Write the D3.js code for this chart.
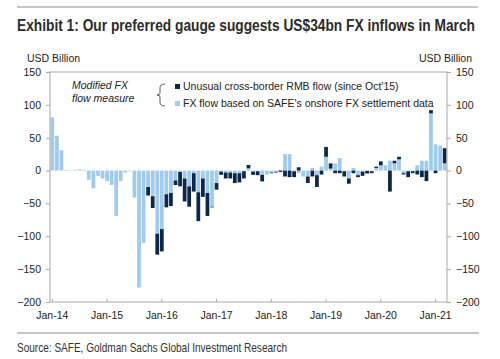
<!DOCTYPE html>
<html><head><meta charset="utf-8">
<script src="https://cdn.jsdelivr.net/npm/d3@7"></script>
<style>body{margin:0;background:#fff}svg text{font-family:"Liberation Sans",Arial,sans-serif}</style>
</head><body>
<svg id="c" width="500" height="359"></svg>
<script>
// Categories: monthly, Jan-14 .. Mar-21
const months = d3.timeMonths(new Date(2014,0,1), new Date(2021,3,1)).map(d3.timeFormat("%b-%y"));
const xTickLabels = ["Jan-14","Jan-15","Jan-16","Jan-17","Jan-18","Jan-19","Jan-20","Jan-21"];
const yTicks = [-200,-150,-100,-50,0,50,100,150];

// FX flow based on SAFE's onshore FX settlement data (USD bn)
const safeFlow = [
  81, 53, 31, 1, 0.5, 1, 2, 1, -14, -27, -8, -12,
  -16, -22, -69, -16, -3, -1, -41, -178, -110, -25, -39, -96,
  -89, -36, -34, -15, -2, -12, -24, -4, -33, -12, -34, -55,
  -19, -1.5, -3, -3, -4, -4, -1, 3.5, -1.5, -1, -6.5, -6.5,
  -3, -2, 1, 25, 25, -1, -4, -9, -9, 4, -7, 6,
  21, 3, 11, 19, -1, -12, 4, -7, -1.5, -0.5, -1, 4,
  8, 8, 15, 11, 17, -4, -1, -1, 8, 15, 15, 87,
  40, 38, 11
];
// Unusual cross-border RMB flow (since Oct'15) (USD bn)
const unusualFlow = [
  0, 0, 0, 0, 0, 0, 0, 0, 0, 0, 0, 0,
  0, 0, 0, 0, 0, 0, 0, 0, 0, -13, -18, -32,
  -34, -20, -20, -7, -22, -35, -31, -28, -44, -28, -35, -1,
  -10, -5, -9, -9, -15, -14, -11, 5, -5, -6, -10, 0,
  -1, -1, -2, -9, -10, -9, 5, 0, -10, -9, -18, -6,
  15, 8, -4, -4, -8, -8, -4, -3, -6.5, -4, -3, 2,
  6, 0, -32, 4, 4, -2, -9, -3, -6, -10, -16, 5,
  -4, 0, 23
];

const svg = d3.select("#c");
const L = 50, R = 447, T = 72, B = 302;
const x = d3.scaleBand().domain(months).range([L, R]).paddingInner(0.18).paddingOuter(0.1);
const y = d3.scaleLinear().domain([-200, 150]).range([B, T]);

// header rule + title (condensed look: smaller font stretched vertically)
svg.append("line").attr("x1",17).attr("x2",478).attr("y1",7).attr("y2",7).attr("stroke","#b5b5b5").attr("stroke-width",1.5);
svg.append("text").attr("transform","translate(17,31) scale(1,1.25)")
  .attr("font-size",13.6).attr("font-weight","bold").attr("fill","#2b2b2b")
  .attr("textLength",458).attr("lengthAdjust","spacingAndGlyphs")
  .text("Exhibit 1: Our preferred gauge suggests US$34bn FX inflows in March");

svg.append("text").attr("x",27).attr("y",62).attr("font-size",10.5).attr("fill","#222").text("USD Billion");
svg.append("text").attr("x",472).attr("y",62).attr("font-size",10.5).attr("fill","#222").attr("text-anchor","end").text("USD Billion");

// bars
const data = months.map((m,i)=>({month:m, safe:safeFlow[i], unusual:unusualFlow[i]}));
const series = d3.stack().keys(["safe","unusual"]).offset(d3.stackOffsetDiverging)(data);
const colors = {safe:"#9fcbf0", unusual:"#0c2748"};
svg.append("g").selectAll("g").data(series).join("g").attr("fill", s=>colors[s.key])
  .selectAll("rect").data(s=>s).join("rect")
  .attr("x", d=>x(d.data.month))
  .attr("width", x.bandwidth())
  .attr("y", d=>y(Math.max(d[0],d[1])))
  .attr("height", d=>Math.abs(y(d[0])-y(d[1])));

// frame
const frameColor = "#a9a9a9";
svg.append("rect").attr("x",L).attr("y",T).attr("width",R-L).attr("height",B-T)
  .attr("fill","none").attr("stroke",frameColor).attr("stroke-width",1);

// axes
const yl = svg.append("g").attr("transform",`translate(${L},0)`)
  .call(d3.axisLeft(y).tickValues(yTicks).tickSize(4).tickPadding(5));
const yr = svg.append("g").attr("transform",`translate(${R},0)`)
  .call(d3.axisRight(y).tickValues(yTicks).tickSize(4).tickPadding(5));
const xb = svg.append("g").attr("transform",`translate(0,${B})`)
  .call(d3.axisBottom(x).tickValues(xTickLabels).tickSize(-3).tickPadding(6));
[yl,yr,xb].forEach(g=>{
  g.select(".domain").remove();
  g.selectAll(".tick line").attr("stroke",frameColor);
  g.selectAll(".tick text").attr("font-size",10.5).attr("fill","#222").style("font-family",'"Liberation Sans",Arial,sans-serif');
});
xb.selectAll(".tick text").attr("dy","1.05em");

// legend
svg.append("text").attr("x",72).attr("y",89).attr("font-size",10.5).attr("font-style","italic").attr("fill","#222").text("Modified FX");
svg.append("text").attr("x",72).attr("y",102).attr("font-size",10.5).attr("font-style","italic").attr("fill","#222").text("flow measure");
svg.append("path").attr("d","M165,84 Q160,84 160,88 L160,93 Q160,95 157,95 Q160,95 160,97 L160,102 Q160,106 165,106")
  .attr("fill","none").attr("stroke","#333").attr("stroke-width",0.8);
const legendItems = [
  {key:"unusual", label:"Unusual cross-border RMB flow (since Oct'15)", y:90},
  {key:"safe", label:"FX flow based on SAFE's onshore FX settlement data", y:107}
];
legendItems.forEach(it=>{
  svg.append("rect").attr("x",175).attr("y",it.y-6).attr("width",5).attr("height",5).attr("fill",colors[it.key]);
  svg.append("text").attr("x",183).attr("y",it.y).attr("font-size",10.5).attr("fill","#222").text(it.label);
});

// footer
svg.append("line").attr("x1",17).attr("x2",479).attr("y1",333).attr("y2",333).attr("stroke","#b5b5b5").attr("stroke-width",1.5);
svg.append("text").attr("transform","translate(17,352) scale(1,1.27)")
  .attr("font-size",10.2).attr("fill","#333")
  .attr("textLength",270).attr("lengthAdjust","spacingAndGlyphs")
  .text("Source: SAFE, Goldman Sachs Global Investment Research");
</script>
</body></html>
